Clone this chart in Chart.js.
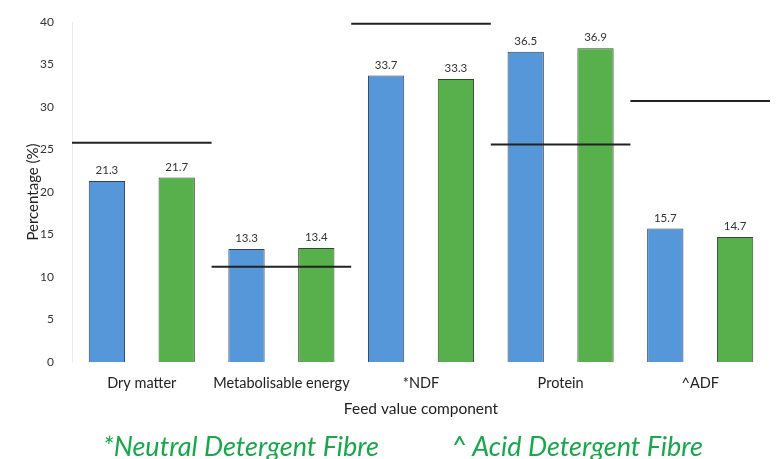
<!DOCTYPE html>
<html>
<head>
<meta charset="utf-8">
<script src="https://cdn.jsdelivr.net/npm/chart.js@4"></script>
<style>
	html, body { margin: 0; padding: 0; background: #fff; }
	#wrap { position: relative; width: 777px; height: 459px; overflow: hidden; }
	#nota { position: absolute; left: 0; top: 429px; width: 777px; font-family: Lato, sans-serif; font-style: italic; font-size: 27px; color: #17a84c; white-space: nowrap; }
	#nota span { position: absolute; top: 0; }
</style>
</head>
<body>
<div id="wrap">
	<canvas id="grafico_barra_canvas" width="777" height="459"></canvas>
	<div id="nota"><span style="left:103px">*Neutral Detergent Fibre</span><span style="left:451px">^ Acid Detergent Fibre</span></div>
</div>
<script>
//Datos del gráfico
const categorias = ['Dry matter', 'Metabolisable energy', '*NDF', 'Protein', '^ADF']
const serieAzul = [21.3, 13.3, 33.7, 36.5, 15.7]
const serieVerde = [21.7, 13.4, 33.3, 36.9, 14.7]
const lineasReferencia = [25.8, 11.2, 39.8, 25.6, 30.7]
const ticksY = [0, 5, 10, 15, 20, 25, 30, 35, 40]

//Plugin para etiquetas de valor sobre las barras
const etiquetasValor = {
	id: 'etiquetasValor',
	afterDatasetsDraw(chart) {
		const ctx = chart.ctx
		ctx.save()
		ctx.font = '11.5px Lato, sans-serif'
		ctx.fillStyle = '#333'
		ctx.textAlign = 'center'
		ctx.textBaseline = 'bottom'
		chart.data.datasets.forEach((ds, i) => {
			chart.getDatasetMeta(i).data.forEach((bar, j) => {
				ctx.fillText(ds.data[j].toFixed(1), bar.x, bar.y - 5)
			})
		})
		ctx.restore()
	}
}

//Plugin para líneas de referencia por categoría
const lineasRef = {
	id: 'lineasRef',
	afterDatasetsDraw(chart) {
		const ctx = chart.ctx
		const x = chart.scales.x
		const y = chart.scales.y
		ctx.save()
		ctx.strokeStyle = '#222'
		ctx.lineWidth = 2
		lineasReferencia.forEach((v, i) => {
			let x0 = x.getPixelForValue(i - 0.5)
			let x1 = x.getPixelForValue(i + 0.5)
			let py = y.getPixelForValue(v)
			ctx.beginPath()
			ctx.moveTo(x0, py)
			ctx.lineTo(x1, py)
			ctx.stroke()
		})
		ctx.restore()
	}
}

const generarBarra = () => {
	let graficoBarraCanvas = document.getElementById('grafico_barra_canvas')
	let barChart = new Chart(graficoBarraCanvas, {
		type: 'bar',
		data: {
			labels: categorias,
			datasets: [
				{
					label: 'Serie 1',
					backgroundColor: '#5597d8',
					borderColor: '#2f4258',
					borderWidth: 1,
					data: serieAzul
				},
				{
					label: 'Serie 2',
					backgroundColor: '#57b04b',
					borderColor: '#2f4a2c',
					borderWidth: 1,
					data: serieVerde
				}
			]
		},
		options: {
			responsive: false,
			animation: false,
			layout: { padding: { top: 22, right: 7, bottom: 37, left: 20 } },
			categoryPercentage: 1.0,
			barPercentage: 0.52,
			plugins: {
				legend: { display: false },
				tooltip: { enabled: false }
			},
			scales: {
				x: {
					grid: { display: false },
					border: { display: false },
					ticks: { color: '#222', font: { family: 'Lato, sans-serif', size: 14.5 }, padding: 5, maxRotation: 0 },
					title: { display: true, text: 'Feed value component', color: '#222', font: { family: 'Lato, sans-serif', size: 15.5 }, padding: { top: 7 } },
					afterFit: (s) => { s.height = 60 }
				},
				y: {
					min: 0,
					max: 40,
					afterBuildTicks: (s) => { s.ticks = ticksY.map(v => ({ value: v })) },
					grid: { display: false },
					border: { display: true, color: '#ececec' },
					ticks: { color: '#333', font: { family: 'Lato, sans-serif', size: 12 }, padding: 10 },
					title: { display: true, text: 'Percentage (%)', color: '#222', font: { family: 'Lato, sans-serif', size: 15 } },
					afterFit: (s) => { s.width = 52 }
				}
			}
		},
		plugins: [lineasRef, etiquetasValor]
	})
}

generarBarra()
</script>
</body>
</html>
